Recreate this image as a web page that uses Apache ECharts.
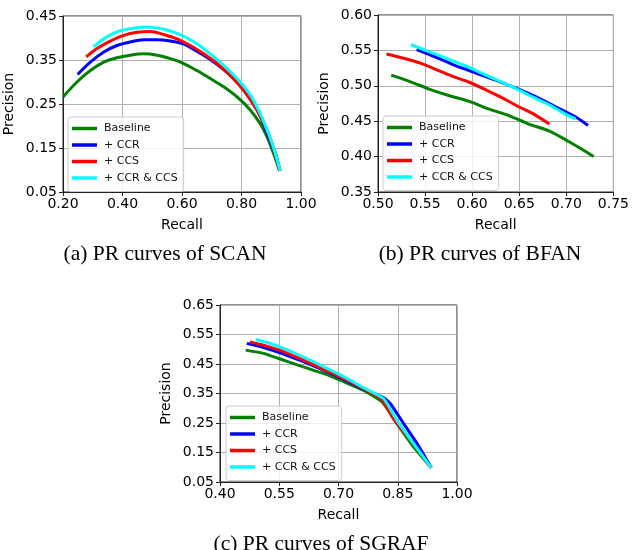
<!DOCTYPE html>
<html>
<head>
<meta charset="utf-8">
<script src="https://cdn.jsdelivr.net/npm/echarts@6/dist/echarts.min.js"></script>
<style>
html,body{margin:0;padding:0;background:#fff;}
#chart{width:632px;height:550px;}
</style>
</head>
<body>
<div id="chart"></div>
<script>
// ---------- data (recall, precision) ----------
const seriesNames = ['Baseline', '+ CCR', '+ CCS', '+ CCR & CCS'];
const seriesColors = ['#008000', '#0000ff', '#ff0000', '#00ffff'];

// (a) SCAN
const scanBaseline = [[0.200,0.266],[0.247,0.300],[0.292,0.326],[0.337,0.345],[0.381,0.355],[0.426,0.361],[0.471,0.364],[0.516,0.361],[0.561,0.353],[0.606,0.342],[0.650,0.326],[0.695,0.308],[0.740,0.289],[0.785,0.266],[0.830,0.236],[0.863,0.205],[0.886,0.175],[0.908,0.137],[0.928,0.098]];
const scanCCR = [[0.249,0.317],[0.292,0.345],[0.337,0.368],[0.381,0.383],[0.426,0.391],[0.471,0.396],[0.516,0.396],[0.561,0.393],[0.606,0.386],[0.650,0.370],[0.695,0.351],[0.740,0.328],[0.785,0.300],[0.830,0.264],[0.863,0.222],[0.891,0.175],[0.914,0.137],[0.930,0.098]];
const scanCCS = [[0.278,0.357],[0.314,0.376],[0.359,0.393],[0.404,0.406],[0.449,0.413],[0.494,0.415],[0.538,0.408],[0.583,0.398],[0.628,0.383],[0.673,0.364],[0.718,0.342],[0.762,0.315],[0.807,0.281],[0.852,0.236],[0.886,0.190],[0.914,0.137],[0.928,0.098]];
const scanBoth = [[0.303,0.380],[0.337,0.398],[0.381,0.414],[0.426,0.421],[0.471,0.425],[0.516,0.423],[0.561,0.416],[0.606,0.404],[0.650,0.387],[0.695,0.364],[0.740,0.338],[0.785,0.308],[0.830,0.270],[0.863,0.228],[0.891,0.183],[0.914,0.137],[0.930,0.098]];

// (b) BFAN
const bfanBaseline = [[0.514,0.515],[0.534,0.506],[0.555,0.495],[0.576,0.486],[0.597,0.478],[0.618,0.467],[0.639,0.458],[0.660,0.446],[0.682,0.436],[0.703,0.421],[0.717,0.410],[0.729,0.400]];
const bfanCCR = [[0.541,0.551],[0.562,0.540],[0.583,0.528],[0.604,0.518],[0.625,0.508],[0.646,0.497],[0.667,0.485],[0.689,0.470],[0.710,0.456],[0.723,0.444]];
const bfanCCS = [[0.509,0.545],[0.527,0.539],[0.545,0.532],[0.562,0.523],[0.580,0.513],[0.597,0.505],[0.615,0.494],[0.632,0.483],[0.650,0.470],[0.664,0.461],[0.682,0.446]];
const bfanBoth = [[0.535,0.558],[0.555,0.548],[0.576,0.537],[0.597,0.526],[0.618,0.513],[0.639,0.501],[0.660,0.487],[0.682,0.473],[0.699,0.460],[0.710,0.453]];

// (c) SGRAF
const sgrafBaseline = [[0.465,0.497],[0.510,0.486],[0.561,0.463],[0.611,0.440],[0.662,0.418],[0.713,0.390],[0.763,0.361],[0.810,0.322],[0.848,0.248],[0.890,0.169],[0.935,0.098]];
const sgrafCCR = [[0.468,0.520],[0.510,0.506],[0.561,0.484],[0.611,0.458],[0.662,0.429],[0.713,0.398],[0.763,0.366],[0.814,0.336],[0.831,0.316],[0.865,0.248],[0.899,0.180],[0.935,0.098]];
const sgrafCCS = [[0.476,0.525],[0.510,0.514],[0.561,0.492],[0.611,0.463],[0.662,0.432],[0.713,0.401],[0.763,0.367],[0.810,0.330],[0.839,0.265],[0.890,0.180],[0.935,0.098]];
const sgrafBoth = [[0.491,0.533],[0.527,0.520],[0.561,0.503],[0.611,0.474],[0.662,0.441],[0.713,0.407],[0.763,0.370],[0.814,0.333],[0.848,0.259],[0.890,0.180],[0.935,0.098]];

// tick values
const scanXTicks = [0.20, 0.40, 0.60, 0.80, 1.00];
const scanYTicks = [0.05, 0.15, 0.25, 0.35, 0.45];
const bfanXTicks = [0.50, 0.55, 0.60, 0.65, 0.70, 0.75];
const bfanYTicks = [0.35, 0.40, 0.45, 0.50, 0.55, 0.60];
const sgrafXTicks = [0.40, 0.55, 0.70, 0.85, 1.00];
const sgrafYTicks = [0.05, 0.15, 0.25, 0.35, 0.45, 0.55, 0.65];

const captions = ['(a) PR curves of SCAN', '(b) PR curves of BFAN', '(c) PR curves of SGRAF'];

// ---------- option building ----------
const panels = [
  {data: [scanBaseline, scanCCR, scanCCS, scanBoth], xt: scanXTicks, yt: scanYTicks, smooth: 0.3,
   grid: {left: 63, top: 16, width: 238, height: 176}, legend: {left: 68, top: 117}, cap: [165, 254]},
  {data: [bfanBaseline, bfanCCR, bfanCCS, bfanBoth], xt: bfanXTicks, yt: bfanYTicks, smooth: 0.3,
   grid: {left: 378, top: 15, width: 237, height: 177}, legend: {left: 383, top: 116}, cap: [480, 254]},
  {data: [sgrafBaseline, sgrafCCR, sgrafCCS, sgrafBoth], xt: sgrafXTicks, yt: sgrafYTicks, smooth: 0.15,
   grid: {left: 220, top: 305, width: 237, height: 177}, legend: {left: 226, top: 406}, cap: [321, 544]}
];

const axisFont = 'DejaVu Sans';
const fmt = v => Number(v).toFixed(2);

const grids = [], xAxes = [], yAxes = [], series = [], legends = [], graphics = [];
panels.forEach((p, i) => {
  grids.push(Object.assign({show: true, borderColor: '#222', borderWidth: 1, containLabel: false}, p.grid));
  const common = (ticks, isX) => ({
    type: 'value', gridIndex: i,
    min: ticks[0], max: ticks[ticks.length - 1],
    axisLine: {show: true, onZero: false, lineStyle: {color: '#222', width: 1}},
    axisTick: {show: true, inside: false, length: 4, customValues: ticks, lineStyle: {color: '#222', width: 1}},
    axisLabel: {customValues: ticks, formatter: fmt, fontSize: 14, color: '#000', fontFamily: axisFont, margin: isX ? 5 : 6, showMinLabel: true, showMaxLabel: true},
    splitLine: {show: true, lineStyle: {color: '#b0b0b0', width: 1}},
    nameLocation: 'middle',
    nameTextStyle: {fontSize: 14, color: '#000', fontFamily: axisFont}
  });
  xAxes.push(Object.assign(common(p.xt, true), {name: 'Recall', nameGap: 26}));
  yAxes.push(Object.assign(common(p.yt, false), {name: 'Precision', nameGap: 47}));
  p.data.forEach((d, k) => {
    series.push({
      type: 'line', name: seriesNames[k], xAxisIndex: i, yAxisIndex: i,
      data: d, showSymbol: false, symbol: 'none', smooth: p.smooth,
      lineStyle: {color: seriesColors[k], width: 3}, itemStyle: {color: seriesColors[k]},
      z: 2 + k, animation: false
    });
  });
  legends.push({
    left: p.legend.left, top: p.legend.top, orient: 'vertical',
    data: seriesNames, icon: 'rect', itemWidth: 25, itemHeight: 3.5, itemGap: 3.5,
    padding: [5, 6, 7, 4], borderColor: '#cccccc', borderWidth: 1, borderRadius: 3,
    backgroundColor: 'rgba(255,255,255,0.8)', selectedMode: false,
    textStyle: {fontSize: 11, color: '#111', fontFamily: axisFont, lineHeight: 13, padding: [0, 0, 0, 2]}
  });
  graphics.push({
    type: 'text', x: p.cap[0], y: p.cap[1],
    style: {text: captions[i], font: '21.5px "Liberation Serif"', fill: '#000', textAlign: 'center', textVerticalAlign: 'middle'}
  });
});

const chart = echarts.init(document.getElementById('chart'), null, {renderer: 'canvas'});
chart.setOption({
  backgroundColor: '#fff',
  animation: false,
  grid: grids, xAxis: xAxes, yAxis: yAxes, series: series, legend: legends,
  graphic: graphics
});
</script>
</body>
</html>
